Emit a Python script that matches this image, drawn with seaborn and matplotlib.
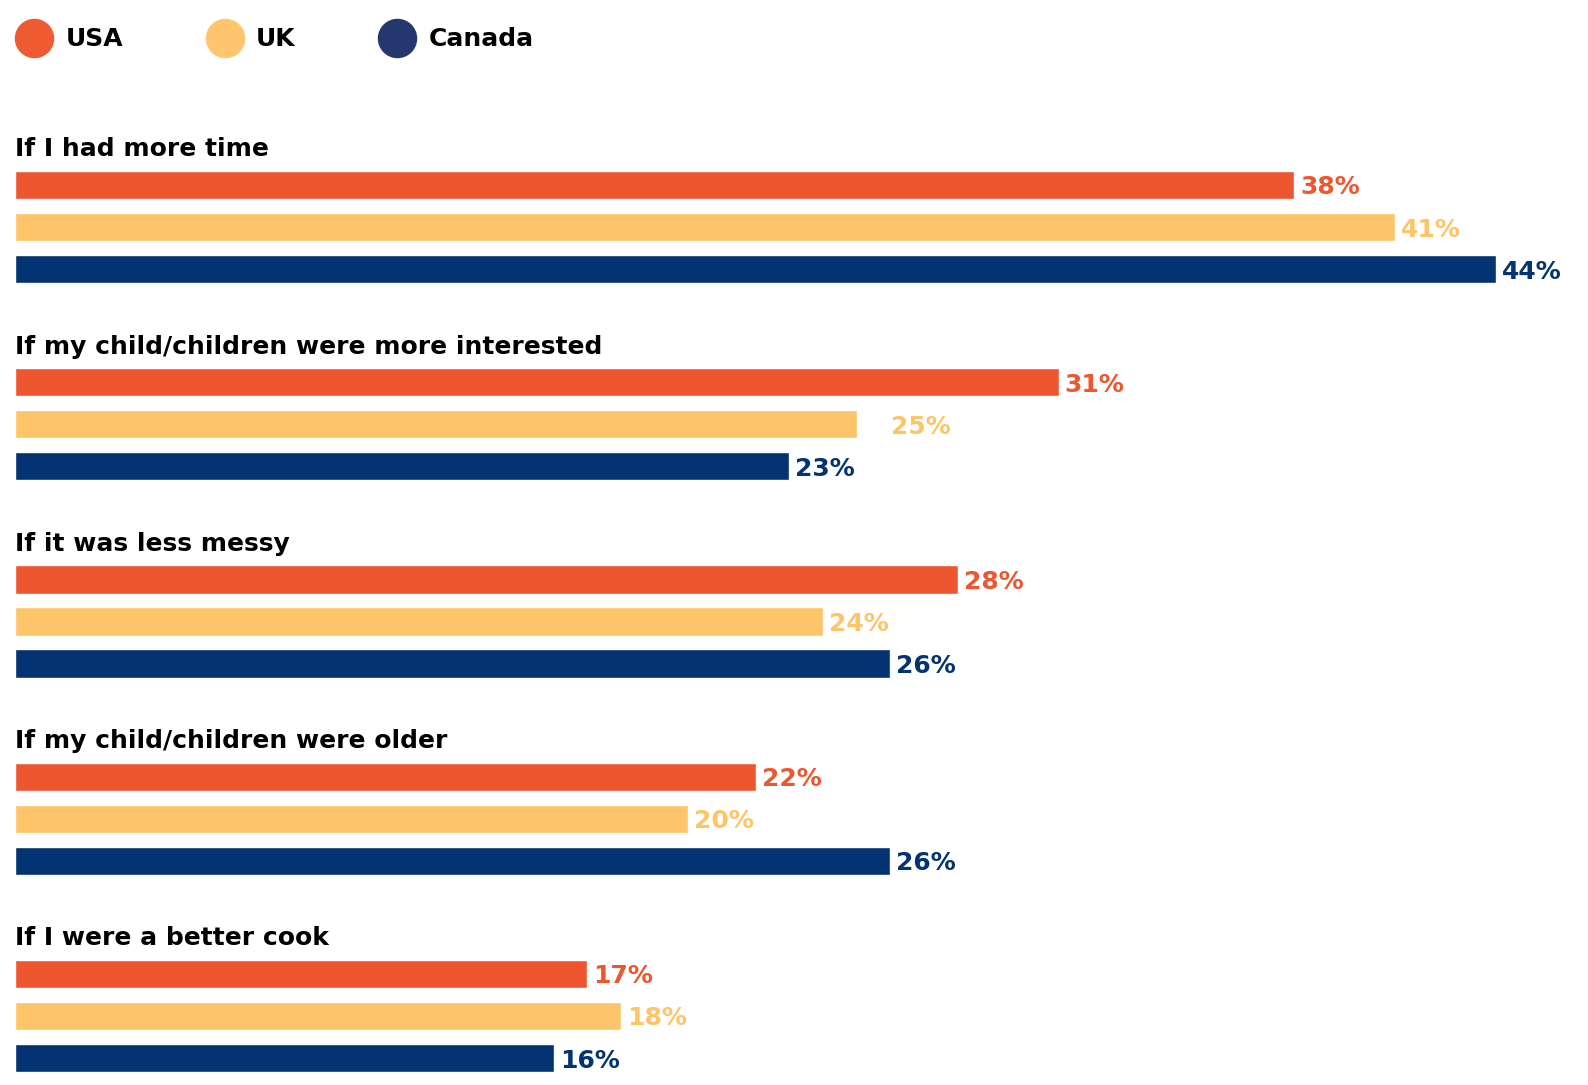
import matplotlib
matplotlib.use("Agg")
import matplotlib.pyplot as plt
import seaborn as sns
import pandas as pd
from matplotlib.lines import Line2D

categories = [
    "If I had more time",
    "If my child/children were more interested",
    "If it was less messy",
    "If my child/children were older",
    "If I were a better cook",
]
countries = ["USA", "UK", "Canada"]
usa = [38, 31, 28, 22, 17]
uk = [41, 25, 24, 20, 18]
canada = [44, 23, 26, 26, 16]

bar_colors = ["#EE5630", "#FEC46A", "#033372"]
label_colors = ["#EE5630", "#FEC468", "#033372"]
legend_colors = ["#F05A30", "#FEC56E", "#24376F"]

df = pd.DataFrame({
    "category": categories * 3,
    "country": [c for c in countries for _ in categories],
    "value": usa + uk + canada,
})

sns.set_theme(style="white")
plt.rcParams["font.family"] = ["DejaVu Sans"]

W, H = 1588, 1085
fig = plt.figure(figsize=(W / 100, H / 100), dpi=100)
ax = fig.add_axes([15.2 / W, 0, 1572 / W, 1])

sns.barplot(data=df, y="category", x="value", hue="country", order=categories,
            hue_order=countries, palette=bar_colors, orient="h", width=0.64,
            gap=0.33, saturation=1, errorbar=None, legend=False, ax=ax)

ax.set_xlim(0, 46.7)
ax.set_ylim(4.35, -1.151)
ax.axis("off")

FS = 18
# value labels
for ci, cont in enumerate(ax.containers):
    for bi, patch in enumerate(cont):
        v = patch.get_width()
        pad = 6
        if ci == 1 and bi == 1:
            pad = 34
        ax.annotate(f"{v:.0f}%", (v, patch.get_y() + patch.get_height() / 2),
                    xytext=(pad, 0), textcoords="offset pixels",
                    ha="left", va="center_baseline", fontsize=FS,
                    fontweight="bold", color=label_colors[ci])

# group titles
for i, cat in enumerate(categories):
    ax.text(0, i - 0.406, cat, ha="left", va="center_baseline", fontsize=FS,
            fontweight="bold", color="#000000")

handles = [Line2D([], [], marker="o", linestyle="", markersize=27.4,
                  markerfacecolor=c, markeredgecolor=c) for c in legend_colors]
fig.legend(handles, countries, loc="center left",
           bbox_to_anchor=(15.6 / W, 1 - 39.5 / H), ncol=3, frameon=False,
           borderpad=0, borderaxespad=0, handlelength=1.5, handletextpad=0.51,
           columnspacing=3.3, labelcolor="#000000",
           prop={"size": FS, "weight": "bold"})

fig.savefig("out.png", dpi=100)
